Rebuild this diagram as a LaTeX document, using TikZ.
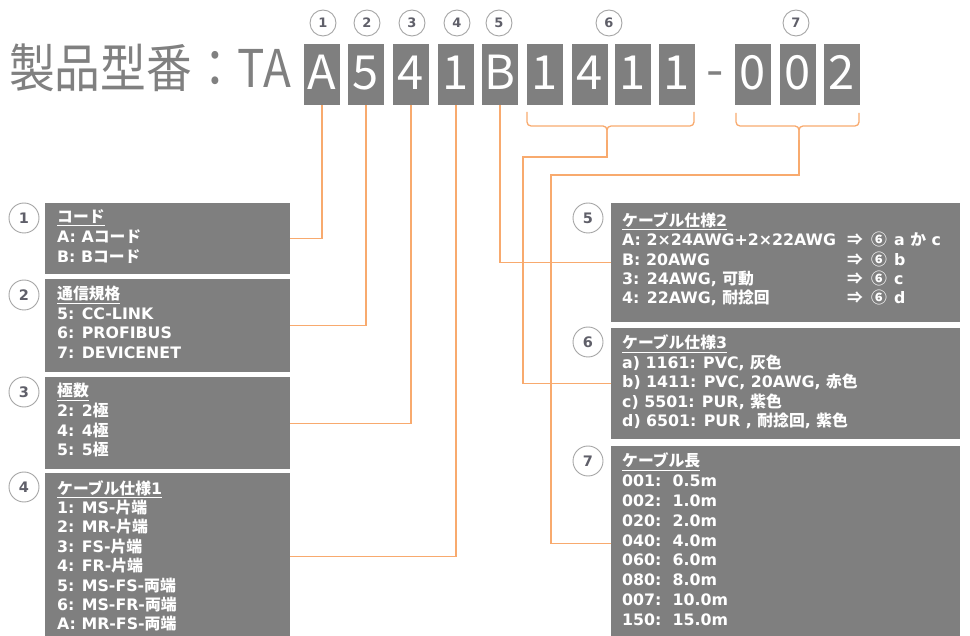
\documentclass[tikz,border=0pt]{standalone}
\usepackage{graphicx}
\usepackage{fontspec}
\setmainfont{DejaVu Sans}
\newfontfamily\jp{Noto Sans CJK JP}
\newcommand\J[1]{{\jp\bfseries #1}}
\definecolor{boxgray}{RGB}{127,127,127}
\definecolor{titlegray}{RGB}{128,128,128}
\definecolor{ora}{RGB}{248,170,110}
\definecolor{circ}{RGB}{165,165,165}
\definecolor{numc}{RGB}{95,95,105}
\begin{document}
\begin{tikzpicture}[x=1pt,y=-1pt,
  letter/.style={fill=boxgray, minimum width=36pt, minimum height=61pt, inner sep=0pt,
    text=white, text height=46pt, text depth=15pt, font=\jp\fontsize{47}{47}\selectfont},
  topnum/.style={circle, draw=circ, line width=0.9pt, minimum size=26pt, inner sep=0pt,
    text=numc, font=\fontsize{13}{13}\selectfont\bfseries},
  sidenum/.style={circle, draw=circ, line width=0.9pt, minimum size=30pt, inner sep=0pt,
    text=numc, font=\fontsize{14.5}{14.5}\selectfont\bfseries},
  panel/.style={fill=boxgray, inner sep=0pt, anchor=north west},
  body/.style={anchor=base west, inner sep=0pt, text=white, font=\fontsize{15.8}{19.6}\selectfont\bfseries},
  conn/.style={draw=ora, line width=1.3pt},
  brace/.style={draw=ora, line width=1.3pt, rounded corners=4pt}]
\useasboundingbox (0,0) rectangle (970,636);

% title
\node[anchor=base west, inner sep=0pt, text=titlegray, font=\jp\fontsize{52}{52}\selectfont] (title) at (9,88) {\scalebox{0.88}[1]{製品型番：TA}};

% letter boxes
\node[letter] (lA) at (322,74.5) {A};
\node[letter] (l5) at (366,74.5) {5};
\node[letter] (l4) at (411,74.5) {4};
\node[letter] (l1) at (456,74.5) {1};
\node[letter] (lB) at (500,74.5) {B};
\node[letter] (l6a) at (545,74.5) {1};
\node[letter] (l6b) at (590,74.5) {4};
\node[letter] (l6c) at (633,74.5) {1};
\node[letter] (l6d) at (677,74.5) {1};
\node[anchor=base, inner sep=0pt, text=titlegray, font=\jp\fontsize{50}{50}\selectfont] (dash) at (715,88) {-};
\node[letter] (l7a) at (753,74.5) {0};
\node[letter] (l7b) at (798,74.5) {0};
\node[letter] (l7c) at (842,74.5) {2};

% top circles
\node[topnum] (c1) at (323,23) {1};
\node[topnum] (c2) at (367,23) {2};
\node[topnum] (c3) at (412,23) {3};
\node[topnum] (c4) at (457,23) {4};
\node[topnum] (c5) at (499,23) {5};
\node[topnum] (c6) at (609,23) {6};
\node[topnum] (c7) at (796,23) {7};

% panels
\node[panel, minimum width=245pt, minimum height=71pt] (p1) at (45,203) {};
\node[panel, minimum width=245pt, minimum height=93pt] (p2) at (45,279) {};
\node[panel, minimum width=245pt, minimum height=92pt] (p3) at (45,377) {};
\node[panel, minimum width=245pt, minimum height=167pt] (p4) at (45,473) {};
\node[panel, minimum width=349pt, minimum height=119pt] (p5) at (611,203) {};
\node[panel, minimum width=349pt, minimum height=111pt] (p6) at (611,328) {};
\node[panel, minimum width=349pt, minimum height=194pt] (p7) at (611,446) {};

% side circles
\node[sidenum] (s1) at (24,218) {1};
\node[sidenum] (s2) at (24,295) {2};
\node[sidenum] (s3) at (24,392) {3};
\node[sidenum] (s4) at (24,487) {4};
\node[sidenum] (s5) at (588,218) {5};
\node[sidenum] (s6) at (588,342) {6};
\node[sidenum] (s7) at (588,461) {7};

% panel texts
\foreach \t [count=\i from 0] in {{\underline{\J{コード}}},{A: A\J{コード}},{B: B\J{コード}}}
  \node[body] (t1-\i) at (57,223+\i*19.6) {\t};
\foreach \t [count=\i from 0] in {{\underline{\J{通信規格}}},{5: CC-LINK},{6: PROFIBUS},{7: DEVICENET}}
  \node[body] (t2-\i) at (57,300+\i*19.5) {\t};
\foreach \t [count=\i from 0] in {{\underline{\J{極数}}},{2: 2\J{極}},{4: 4\J{極}},{5: 5\J{極}}}
  \node[body] (t3-\i) at (57,397+\i*19.6) {\t};
\foreach \t [count=\i from 0] in {{\underline{\J{ケーブル仕様}1}},{1: MS-\J{片端}},{2: MR-\J{片端}},{3: FS-\J{片端}},{4: FR-\J{片端}},{5: MS-FS-\J{両端}},{6: MS-FR-\J{両端}},{A: MR-FS-\J{両端}}}
  \node[body] (t4-\i) at (57,494+\i*19.4) {\t};
\foreach \t [count=\i from 0] in {{\underline{\J{ケーブル仕様}2}},{A: 2×24AWG+2×22AWG},{B: 20AWG},{3: 24AWG, \J{可動}},{4: 22AWG, \J{耐捻回}}}
  \node[body] (t5-\i) at (622,226.5+\i*19.3) {\t};
\foreach \t [count=\i from 1] in {{a \J{か} c},{b},{c},{d}}
  \node[body] (r5-\i) at (847,226.5+\i*19.3) {\makebox[24pt][l]{\J{⇒}}\makebox[23pt][l]{\J{⑥}}\t};
\foreach \t [count=\i from 0] in {{\underline{\J{ケーブル仕様}3}},{a) 1161: PVC, \J{灰色}},{b) 1411: PVC, 20AWG, \J{赤色}},{c) 5501: PUR, \J{紫色}},{d) 6501: PUR , \J{耐捻回}, \J{紫色}}}
  \node[body] (t6-\i) at (622,349+\i*19.4) {\t};
\foreach \t [count=\i from 0] in {{\underline{\J{ケーブル長}}},{001:\ \ 0.5m},{002:\ \ 1.0m},{020:\ \ 2.0m},{040:\ \ 4.0m},{060:\ \ 6.0m},{080:\ \ 8.0m},{007:\ \ 10.0m},{150:\ \ 15.0m}}
  \node[body] (t7-\i) at (622,467+\i*19.75) {\t};

% connectors from single letters
\draw[conn] (lA.south) |- (p1.east);
\draw[conn] (l5.south) |- (p2.east);
\draw[conn] (l4.south) |- (p3.east);
\draw[conn] (l1.south) |- (p4.east);
\draw[conn] (lB.south) |- (p5.west);

% brace 6
\coordinate (b6L) at (527,112);
\coordinate (b6R) at (694,112);
\coordinate (b6M) at (607,126);
\coordinate (b6) at (607,140);
\coordinate (k6) at (523,157);
\draw[brace] (b6L) |- (b6M) -- (b6);
\draw[brace] (b6R) |- (b6M) -- (b6);
\draw[conn] (b6) |- (k6) |- (p6.west);

% brace 7
\coordinate (b7L) at (736,113);
\coordinate (b7R) at (859,113);
\coordinate (b7M) at (799,126);
\coordinate (b7) at (799,140);
\coordinate (k7) at (551,175);
\draw[brace] (b7L) |- (b7M) -- (b7);
\draw[brace] (b7R) |- (b7M) -- (b7);
\draw[conn] (b7) |- (k7) |- (p7.west);
\end{tikzpicture}
\end{document}
